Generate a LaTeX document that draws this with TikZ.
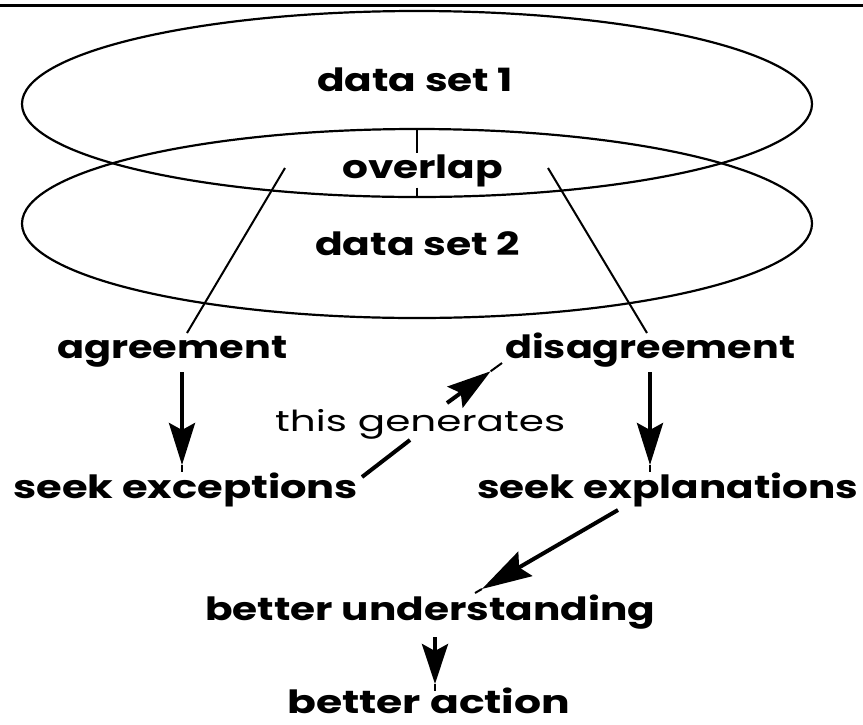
\documentclass[tikz,border=0pt]{standalone}
\usepackage{fontspec}
\usepackage{graphicx}
\usetikzlibrary{arrows.meta,calc}
\newfontfamily\geo{Poppins}
\newcommand\fitto[2]{\resizebox{#1}{\height}{#2}}
\newcommand\pointer[5]{% from, to, head length, extension, head width
  \draw[shaft,-{Stealth[length=#3,width=#5,inset=7pt]}] (#1) -- ($(#2)!#4!(#1)$);
  \draw[tipline] ($(#2)!#4!(#1)$) -- (#2);}
\tikzset{
  lbl/.style={inner sep=0pt, anchor=base west, font=\geo\bfseries\fontsize{32}{34}\selectfont},
  thinlbl/.style={inner sep=0pt, anchor=base west, font=\geo\fontsize{29}{31}\selectfont},
  ring/.style={line width=2.2pt},
  spoke/.style={line width=2pt},
  shaft/.style={line width=4pt},
  tipline/.style={line width=2pt},
  rule/.style={line width=3pt},
}
\begin{document}
\begin{tikzpicture}[x=1pt,y=-1pt]
\fill[white] (0,0) rectangle (863,724);
\useasboundingbox (0,0) rectangle (863,724);
% top rule
\coordinate (ruleL) at (0,5);
\coordinate (ruleR) at (863,5);
\draw[rule] (ruleL) -- (ruleR);
% data sets
\draw[ring] (417,104) ellipse [x radius=395, y radius=93];
\draw[ring] (417,223.5) ellipse [x radius=395, y radius=94.5];
% labels
\node[lbl] (ds1) at (317,91) {\fitto{196pt}{data set 1}};
\node[lbl, fill=white, inner ysep=1pt] (ov) at (342,178) {\fitto{161pt}{overlap}};
\node[lbl] (ds2) at (315,255) {\fitto{205pt}{data set 2}};
\node[lbl] (ag) at (57,358) {\fitto{230pt}{agreement}};
\node[lbl] (dis) at (505,358) {\fitto{290pt}{disagreement}};
\node[thinlbl] (gen) at (275,431) {\fitto{290pt}{this generates}};
\node[lbl] (exc) at (13,498) {\fitto{345pt}{seek exceptions}};
\node[lbl] (expl) at (477,498) {\fitto{381pt}{seek explanations}};
\node[lbl] (und) at (205,620) {\fitto{450pt}{better understanding}};
\node[lbl] (act) at (287,713) {\fitto{283pt}{better action}};
% overlap divider
\coordinate (ovtop) at (417,129);
\coordinate (ovbot) at (417,197);
\draw[spoke] (ovtop) -- (ov.north -| ovtop);
\draw[spoke] (ov.south -| ovbot) -- (ovbot);
% slanted lines
\coordinate (agfrom) at (285,168);
\coordinate (agto) at (187,333);
\coordinate (disfrom) at (548,168);
\coordinate (disto) at (647,333);
\draw[spoke] (agfrom) -- (agto);
\draw[spoke] (disfrom) -- (disto);
% arrows
\coordinate (agA) at (182,372);
\coordinate (agB) at (182,472);
\coordinate (disA) at (650,372);
\coordinate (disB) at (650,472);
\pointer{agA}{agB}{42pt}{7pt}{26pt}
\pointer{disA}{disB}{42pt}{7pt}{26pt}
\coordinate (genLo) at (362,477);
\coordinate (genLoEnd) at (410,440);
\draw[shaft] (genLo) -- (genLoEnd);
\coordinate (genUp) at (447,403);
\coordinate (genUpEnd) at (502,363);
\pointer{genUp}{genUpEnd}{44pt}{14pt}{26pt}
\coordinate (explA) at (618,510);
\coordinate (explB) at (475,593);
\pointer{explA}{explB}{50pt}{8pt}{28pt}
\coordinate (undA) at (435,637);
\coordinate (undB) at (435,691);
\pointer{undA}{undB}{40pt}{7pt}{26pt}
\end{tikzpicture}
\end{document}
